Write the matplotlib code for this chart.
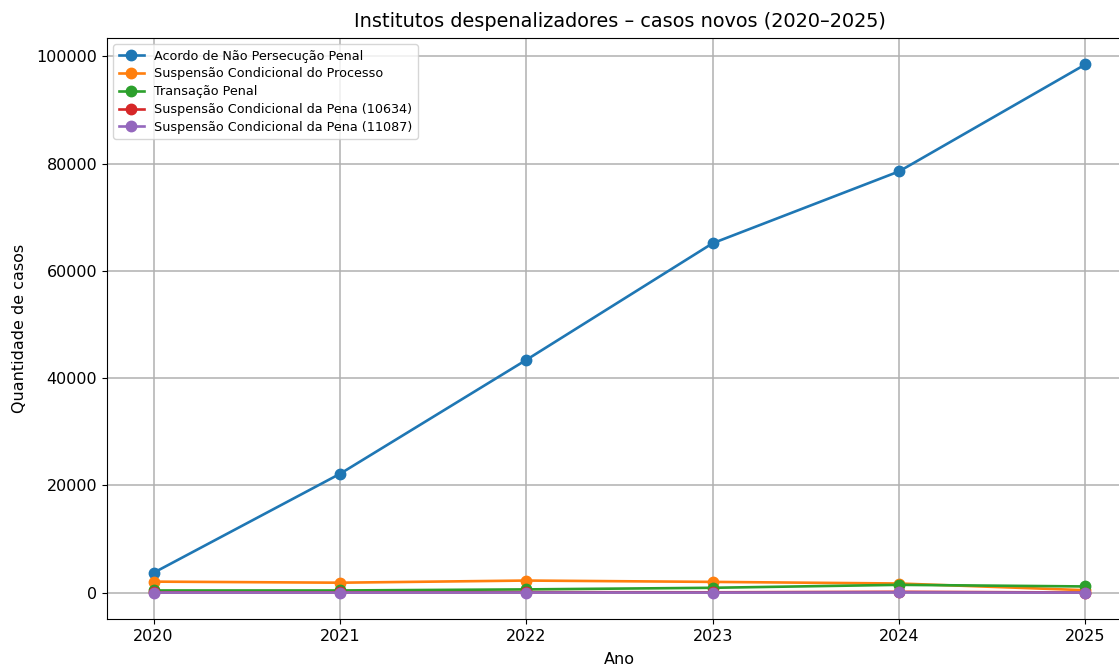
import matplotlib.pyplot as plt

anos = [2020, 2021, 2022, 2023, 2024, 2025]
anpp = [3700, 22150, 43400, 65150, 78550, 98500]
scp = [2050, 1850, 2250, 2000, 1700, 450]
transacao = [400, 400, 600, 900, 1450, 1150]
sc_pena_10634 = [60, 50, 80, 60, 150, 20]
sc_pena_11087 = [10, 10, 20, 10, 30, 5]

fig = plt.figure(figsize=(11.19, 6.66), dpi=100)
ax = fig.add_axes([107 / 1119, 1 - 619 / 666, 1025 / 1119, (619 - 38) / 666])

estilo = dict(marker='o', linewidth=1.9, markersize=7.5)
ax.plot(anos, anpp, label="Acordo de Não Persecução Penal", **estilo)
ax.plot(anos, scp, label="Suspensão Condicional do Processo", **estilo)
ax.plot(anos, transacao, label="Transação Penal", **estilo)
ax.plot(anos, sc_pena_10634, label="Suspensão Condicional da Pena (10634)", **estilo)
ax.plot(anos, sc_pena_11087, label="Suspensão Condicional da Pena (11087)", **estilo)

ax.set_title("Institutos despenalizadores – casos novos (2020–2025)", fontsize=13.9, pad=8)
ax.set_xlabel("Ano", fontsize=11.5, labelpad=6)
ax.set_ylabel("Quantidade de casos", fontsize=11.5, labelpad=7)
ax.set_xticks(anos)
ax.tick_params(labelsize=11.5)
ax.legend(fontsize=9.2, loc='upper left', labelspacing=0.38)
ax.grid(True, linewidth=1.1)

fig.savefig("out.png", dpi=100)
